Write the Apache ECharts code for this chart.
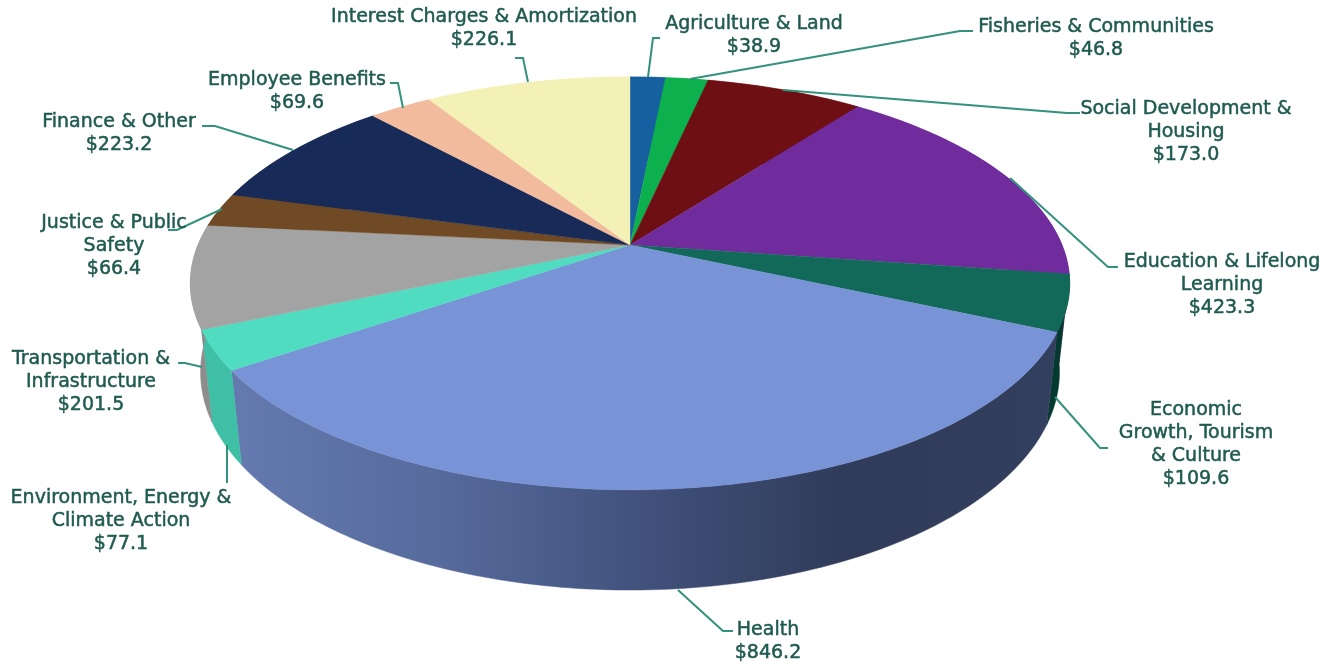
<!DOCTYPE html>
<html><head><meta charset="utf-8">
<style>html,body{margin:0;padding:0;background:#fff}#c{width:1338px;height:662px}</style>
<script src="https://cdn.jsdelivr.net/npm/echarts@6/dist/echarts.min.js"></script>
</head><body><div id="c"></div>
<script>
var categories = ['Agriculture & Land','Fisheries & Communities','Social Development &\nHousing','Education & Lifelong\nLearning','Economic\nGrowth, Tourism\n& Culture','Health','Environment, Energy &\nClimate Action','Transportation &\nInfrastructure','Justice & Public\nSafety','Finance & Other','Employee Benefits','Interest Charges & Amortization'];
var values = [38.9,46.8,173.0,423.3,109.6,846.2,77.1,201.5,66.4,223.2,69.6,226.1];
var topColors = ['#17609f','#0cb04c','#6e0f14','#702c9c','#12695a','#7893d6','#4fdcc0','#a3a3a3','#6f4a24','#172a58','#f3bb9d','#f4f1b6'];
var wallColors = ['#17609f','#0cb04c','#6e0f14','#702c9c','#04392f',null,'#3fbfa6','#8e8c8c','#6f4a24','#172a58','#f3bb9d','#f4f1b6'];
var labelPos = [[754,22],[1096,25],[1186,107],[1222,260],[1196,408],[768,628],[121,496],[91,357],[114,221],[119,120],[297,78],[484,15]];
var leaders = [
 [[660,38],[653,38],[648,77]],
 [[973,31],[960,31],[690,79]],
 [[1080,113],[1067,113],[783,90]],
 [[1118,267],[1108,267],[1010,178]],
 [[1108,448],[1100,448],[1055,397]],
 [[733,631],[723,631],[678,590]],
 [[227,483],[227,445]],
 [[178,363],[185,363],[202,367]],
 [[168,230],[177,230],[222,209]],
 [[202,126],[215,126],[293,150]],
 [[390,83],[398,83],[403,108]],
 [[515,58],[523,58],[528,82]]
];
var total = values.reduce(function(a,b){return a+b;},0);
var CX=630,CY=245,A=432,B=199.3,K=0.186,M=-0.023,D=89.5;
function proj(deg,z){
  var t=deg*Math.PI/180,X=Math.sin(t),Y=-Math.cos(t),w=1-K*Y-M*z;
  return [CX+A*X/w, CY+(B*Y+D*z)/w];
}
function range(i){
  var s=0;for(var j=0;j<i;j++)s+=values[j];
  return [s/total*360,(s+values[i])/total*360];
}
function arc(a,b,z){
  var n=Math.max(2,Math.ceil((b-a)/1)),p=[];
  for(var i=0;i<=n;i++)p.push(proj(a+(b-a)*i/n,z));
  return p;
}
var healthGrad={type:'linear',global:true,x:240,y:0,x2:1050,y2:0,colorStops:[
 {offset:0,color:'#6479ae'},{offset:0.25,color:'#566a9c'},{offset:0.5,color:'#41517c'},{offset:0.75,color:'#2f3b58'},{offset:1,color:'#333f5e'}]};
var data=values.map(function(v,i){return {name:categories[i].replace(/\n/g,' '),value:v};});
var option={
 animation:false,backgroundColor:'#ffffff',
 series:[
 {type:'custom',coordinateSystem:'none',data:data,silent:true,z:1,renderItem:function(p){
   var r=range(p.dataIndex);
   var top=arc(r[0],r[1],0),bot=arc(r[0],r[1],1).reverse();
   var c=wallColors[p.dataIndex]||healthGrad;
   return {type:'polygon',shape:{points:top.concat(bot)},style:{fill:c,stroke:c,lineWidth:0.5}};
 }},
 {type:'custom',coordinateSystem:'none',data:data,silent:true,z:2,renderItem:function(p){
   var r=range(p.dataIndex);
   var pts=[[CX,CY]].concat(arc(r[0],r[1],0));
   var c=topColors[p.dataIndex];
   return {type:'polygon',shape:{points:pts},style:{fill:c,stroke:c,lineWidth:0.4}};
 }},
 {type:'custom',coordinateSystem:'none',data:data,silent:true,z:3,renderItem:function(p){
   return {type:'polyline',shape:{points:leaders[p.dataIndex]},style:{fill:null,stroke:'#33917d',lineWidth:2}};
 }},
 {type:'custom',coordinateSystem:'none',data:data,silent:true,z:4,renderItem:function(p){
   var i=p.dataIndex,lp=labelPos[i];
   return {type:'text',x:lp[0],y:lp[1]-10,style:{text:categories[i]+'\n$'+values[i].toFixed(1),
     fill:'#1f5a50',font:'19px "DejaVu Sans"',lineHeight:23.2,align:'center',verticalAlign:'top',textAlign:'center',textVerticalAlign:'top',stroke:'#1f5a50',lineWidth:0.5}};
 }}
 ]
};
var chart=echarts.init(document.getElementById('c'),null,{renderer:'canvas'});
chart.setOption(option);
</script></body></html>
